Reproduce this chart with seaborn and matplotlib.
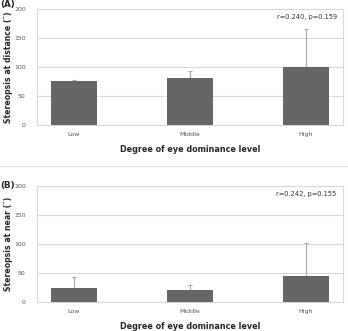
import matplotlib
matplotlib.use('Agg')
import matplotlib.pyplot as plt
import seaborn as sns
import pandas as pd

# data
levels = ['Low', 'Middle', 'High']
distance_mean = [77, 81, 101]
distance_sd = [1, 13, 65]
near_mean = [24, 20, 45]
near_sd = [18, 8, 56]
stats_text = ['r=0.240, p=0.159', 'r=0.242, p=0.155']
ylabels = ['Stereopsis at distance (\u2033)', 'Stereopsis at near (\u2033)']
panel_tags = ['(A)', '(B)']

sns.set_theme(style='white')
plt.rcParams['font.family'] = ['DejaVu Sans']

BAR = '#666666'
GRID = '#d9d9d9'

fig = plt.figure(figsize=(3.48, 3.31), dpi=100)
axes = [fig.add_axes([0.106, 0.622, 0.879, 0.350]),
        fig.add_axes([0.106, 0.0885, 0.879, 0.350])]

panels = [(distance_mean, distance_sd), (near_mean, near_sd)]

for i, ax in enumerate(axes):
    means, sds = panels[i]
    df = pd.DataFrame({'level': levels, 'value': means})
    sns.barplot(data=df, x='level', y='value', color=BAR, saturation=1,
                width=0.4, errorbar=None, linewidth=0, ax=ax, zorder=3)
    ax.errorbar(range(len(levels)), means, yerr=[[0]*len(sds), sds],
                fmt='none', ecolor='#a6a6a6', elinewidth=0.8, capsize=1.5,
                capthick=0.8, zorder=2)
    ax.set_ylim(0, 200)
    ax.set_yticks([0, 50, 100, 150, 200])
    ax.yaxis.grid(True, color=GRID, linewidth=0.8, zorder=0)
    ax.set_axisbelow(True)
    for sp in ax.spines.values():
        sp.set_color(GRID)
        sp.set_linewidth(0.8)
    ax.tick_params(axis='both', length=0, labelsize=4.5, labelcolor='#555555')
    ax.tick_params(axis='y', pad=8)
    ax.tick_params(axis='x', pad=5)
    ax.set_ylabel(ylabels[i], fontsize=5.6, fontweight='bold')
    ax.yaxis.set_label_coords(-0.078, 0.5)
    ax.set_xlabel('Degree of eye dominance level', fontsize=5.8,
                  fontweight='bold', labelpad=6)
    ax.text(0.98, 0.93, stats_text[i], transform=ax.transAxes, ha='right',
            va='center', fontsize=4.8, color='#333333')

fig.text(0.0, 0.985, panel_tags[0], fontsize=6.3, fontweight='bold',
         va='center')
fig.text(0.0, 0.44, panel_tags[1], fontsize=6.3, fontweight='bold',
         va='center')
fig.add_artist(plt.Line2D([0, 1], [1 - 166/331, 1 - 166/331],
                          color='#e0e0e0', linewidth=0.8))

fig.savefig('out.png', dpi=100)
